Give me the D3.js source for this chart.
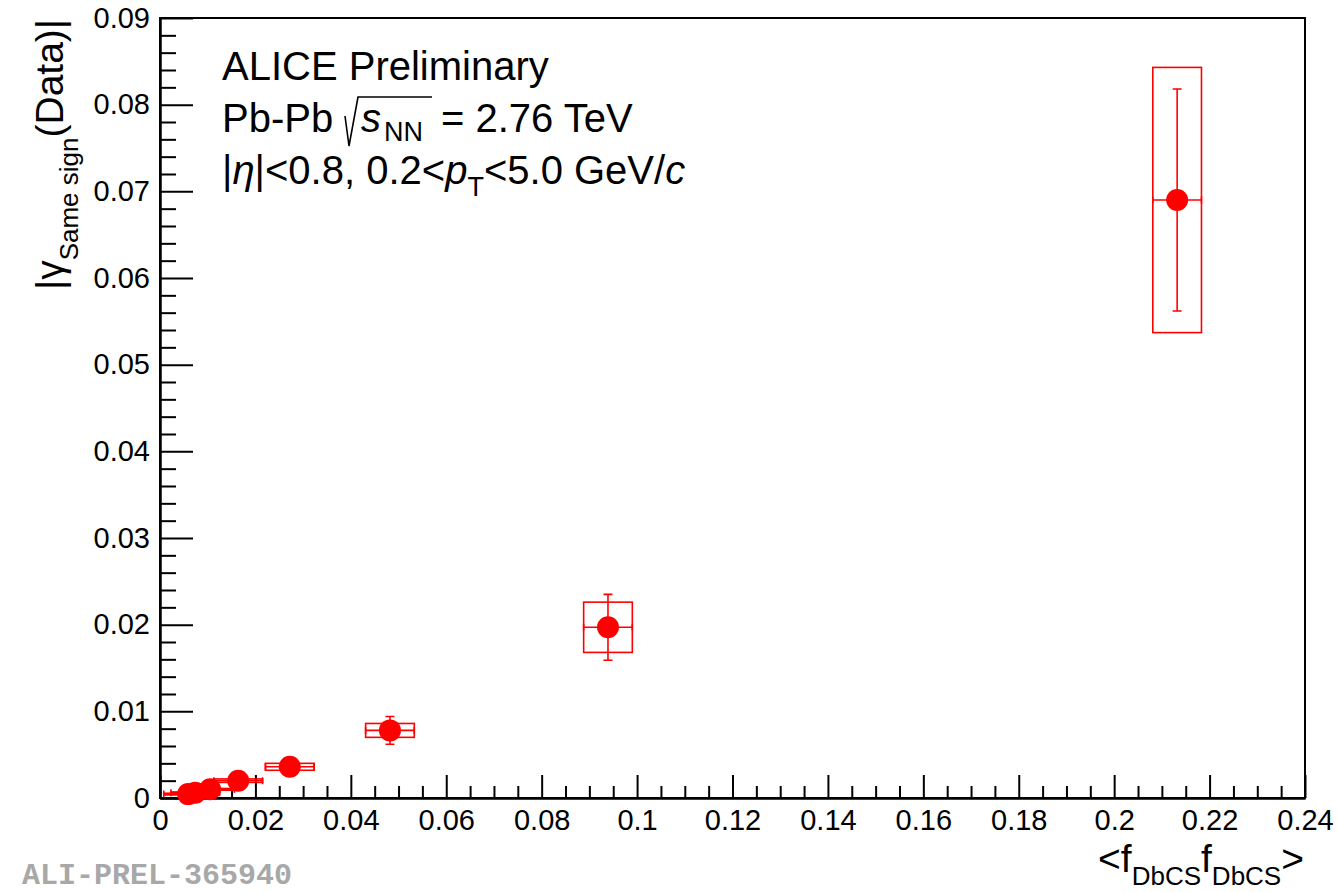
<!DOCTYPE html>
<html>
<head>
<meta charset="utf-8">
<script src="https://cdn.jsdelivr.net/npm/d3@7"></script>
<style>
  body { margin: 0; background: #ffffff; }
  svg { display: block; }
</style>
</head>
<body>
<svg id="chart" width="1338" height="892"></svg>
<script>
// <f_DbCS f_DbCS> per centrality bin and the measured |gamma_SS| correlator
const meanProduct = [0.0059, 0.0074, 0.0105, 0.0164, 0.0272, 0.0482, 0.0939, 0.2132];
const gammaSS     = [0.00045, 0.0006, 0.0010, 0.0020, 0.0036, 0.0078, 0.0197, 0.0690];
const productErr  = [0.0051, 0.0051, 0.0051, 0.0051, 0.0051, 0.0051, 0.0051, 0.0051];
const statErr     = [0.0001, 0.0001, 0.0001, 0.0002, 0.0003, 0.0016, 0.0038, 0.0128];
const sysErr      = [0.0001, 0.0001, 0.0001, 0.0002, 0.0004, 0.0008, 0.0029, 0.0153];

const xTickValues = [0, 0.02, 0.04, 0.06, 0.08, 0.10, 0.12, 0.14, 0.16, 0.18, 0.20, 0.22, 0.24];
const xTickLabels = ["0", "0.02", "0.04", "0.06", "0.08", "0.1", "0.12", "0.14", "0.16", "0.18", "0.2", "0.22", "0.24"];
const yTickValues = [0, 0.01, 0.02, 0.03, 0.04, 0.05, 0.06, 0.07, 0.08, 0.09];
const yTickLabels = ["0", "0.01", "0.02", "0.03", "0.04", "0.05", "0.06", "0.07", "0.08", "0.09"];

const FONT = "'Liberation Sans', Arial, Helvetica, sans-serif";
const RED = "#ff0000";

const svg = d3.select("#chart");
svg.append("rect").attr("width", 1338).attr("height", 892).attr("fill", "#ffffff");

const frame = { left: 160, right: 1305, top: 18, bottom: 798 };
const x = d3.scaleLinear().domain([0, 0.24]).range([frame.left, frame.right]);
const y = d3.scaleLinear().domain([0, 0.09]).range([frame.bottom, frame.top]);

// minor tick positions between the labelled ones
const xMinor = d3.range(0, 0.2401, 0.005).filter(v => Math.abs(v / 0.02 - Math.round(v / 0.02)) > 1e-6);
const yMinor = d3.range(0, 0.0901, 0.002).filter(v => Math.abs(v / 0.01 - Math.round(v / 0.01)) > 1e-6);

function styleAxis(g) {
  g.select(".domain").attr("stroke", "#000").attr("stroke-width", 2);
  g.selectAll(".tick line").attr("stroke", "#000").attr("stroke-width", 2);
  g.selectAll(".tick text").attr("font-family", FONT).attr("font-size", 29).attr("fill", "#000");
}

// x axis: ticks pointing into the frame
svg.append("g")
  .attr("transform", `translate(0,${frame.bottom})`)
  .call(d3.axisBottom(x).tickValues(xMinor).tickFormat("").tickSizeInner(-12).tickSizeOuter(0))
  .call(styleAxis);
svg.append("g")
  .attr("transform", `translate(0,${frame.bottom})`)
  .call(d3.axisBottom(x).tickValues(xTickValues).tickFormat((d, i) => xTickLabels[i])
    .tickSizeInner(-23).tickSizeOuter(0).tickPadding(11))
  .call(styleAxis);

// y axis
svg.append("g")
  .attr("transform", `translate(${frame.left},0)`)
  .call(d3.axisLeft(y).tickValues(yMinor).tickFormat("").tickSizeInner(-16).tickSizeOuter(0))
  .call(styleAxis);
svg.append("g")
  .attr("transform", `translate(${frame.left},0)`)
  .call(d3.axisLeft(y).tickValues(yTickValues).tickFormat((d, i) => yTickLabels[i])
    .tickSizeInner(-33).tickSizeOuter(0).tickPadding(10))
  .call(styleAxis);

// frame
svg.append("rect")
  .attr("x", frame.left).attr("y", frame.top)
  .attr("width", frame.right - frame.left).attr("height", frame.bottom - frame.top)
  .attr("fill", "none").attr("stroke", "#000").attr("stroke-width", 2);

// data points
const pts = meanProduct.map((v, i) => ({
  x: v, y: gammaSS[i], ex: productErr[i], es: statErr[i], esys: sysErr[i]
}));

const marks = svg.append("g").attr("stroke", RED).attr("fill", "none");

// systematic boxes
marks.selectAll("rect.sys").data(pts).join("rect")
  .attr("class", "sys")
  .attr("x", d => x(d.x - d.ex))
  .attr("width", d => x(d.x + d.ex) - x(d.x - d.ex))
  .attr("y", d => y(d.y + d.esys))
  .attr("height", d => y(d.y - d.esys) - y(d.y + d.esys))
  .attr("stroke-width", 1.6);

// horizontal bars with end caps
marks.selectAll("line.ex").data(pts).join("line")
  .attr("class", "ex")
  .attr("x1", d => x(d.x - d.ex)).attr("x2", d => x(d.x + d.ex))
  .attr("y1", d => y(d.y)).attr("y2", d => y(d.y))
  .attr("stroke-width", 1.6);
marks.selectAll("path.excap").data(pts).join("path")
  .attr("class", "excap")
  .attr("d", d => {
    const yy = y(d.y), x0 = x(d.x - d.ex), x1 = x(d.x + d.ex);
    return `M${x0},${yy - 3.5}V${yy + 3.5}M${x1},${yy - 3.5}V${yy + 3.5}`;
  })
  .attr("stroke-width", 1.6);

// statistical bars with end caps
marks.selectAll("line.es").data(pts).join("line")
  .attr("class", "es")
  .attr("x1", d => x(d.x)).attr("x2", d => x(d.x))
  .attr("y1", d => y(d.y + d.es)).attr("y2", d => y(d.y - d.es))
  .attr("stroke-width", 1.6);
marks.selectAll("path.escap").data(pts).join("path")
  .attr("class", "escap")
  .attr("d", d => {
    const xx = x(d.x), y0 = y(d.y + d.es), y1 = y(d.y - d.es);
    return `M${xx - 4.5},${y0}H${xx + 4.5}M${xx - 4.5},${y1}H${xx + 4.5}`;
  })
  .attr("stroke-width", 1.6);

// markers
svg.append("g").selectAll("circle").data(pts).join("circle")
  .attr("cx", d => x(d.x)).attr("cy", d => y(d.y)).attr("r", 11)
  .attr("fill", RED);

// ----- text -----
const MAIN = 40, SUB = 27;

svg.append("text")
  .attr("x", 222).attr("y", 80)
  .attr("font-family", FONT).attr("font-size", MAIN)
  .text("ALICE Preliminary");

// Pb-Pb sqrt(s_NN) = 2.76 TeV
const l2y = 132;
const l2 = svg.append("text").attr("y", l2y).attr("font-family", FONT).attr("font-size", MAIN);
l2.append("tspan").attr("x", 222).text("Pb-Pb");
l2.append("tspan").attr("x", 361).attr("font-style", "italic").text("s");
l2.append("tspan").attr("x", 384).attr("dy", 9).attr("font-size", SUB).text("NN");
l2.append("tspan").attr("x", 441).attr("dy", -9).text("= 2.76 TeV");
svg.append("path")
  .attr("d", `M345,${l2y - 16}L349,${l2y + 14}L358,${l2y - 35}H432`)
  .attr("fill", "none").attr("stroke", "#000").attr("stroke-width", 1.6);

// |eta|<0.8, 0.2<pT<5.0 GeV/c
const l3 = svg.append("text").attr("x", 222).attr("y", 184)
  .attr("font-family", FONT).attr("font-size", MAIN);
l3.append("tspan").text("|");
l3.append("tspan").attr("font-style", "italic").text("η");
l3.append("tspan").text("|<0.8, 0.2<");
l3.append("tspan").attr("font-style", "italic").text("p");
l3.append("tspan").attr("dy", 12).attr("font-size", SUB).text("T");
l3.append("tspan").attr("dy", -12).text("<5.0 GeV/");
l3.append("tspan").attr("font-style", "italic").text("c");

// y-axis title
const yl = svg.append("text")
  .attr("transform", "translate(63,290) rotate(-90)")
  .attr("font-family", FONT).attr("font-size", 39);
yl.append("tspan").text("|γ");
yl.append("tspan").attr("dy", 15).attr("font-size", 26).text("Same sign");
yl.append("tspan").attr("dy", -15).text("(Data)|");

// x-axis title
const xl = svg.append("text")
  .attr("x", 1304).attr("y", 872).attr("text-anchor", "end")
  .attr("font-family", FONT).attr("font-size", 39);
xl.append("tspan").text("<f");
xl.append("tspan").attr("dy", 13).attr("font-size", 26).text("DbCS");
xl.append("tspan").attr("dy", -13).text("f");
xl.append("tspan").attr("dy", 13).attr("font-size", 26).text("DbCS");
xl.append("tspan").attr("dy", -13).text(">");

// figure id
svg.append("text")
  .attr("x", 22).attr("y", 884)
  .attr("font-family", "'Liberation Mono', 'Courier New', monospace")
  .attr("font-weight", "bold").attr("font-size", 30).attr("fill", "#a8a8a8")
  .text("ALI-PREL-365940");
</script>
</body>
</html>
